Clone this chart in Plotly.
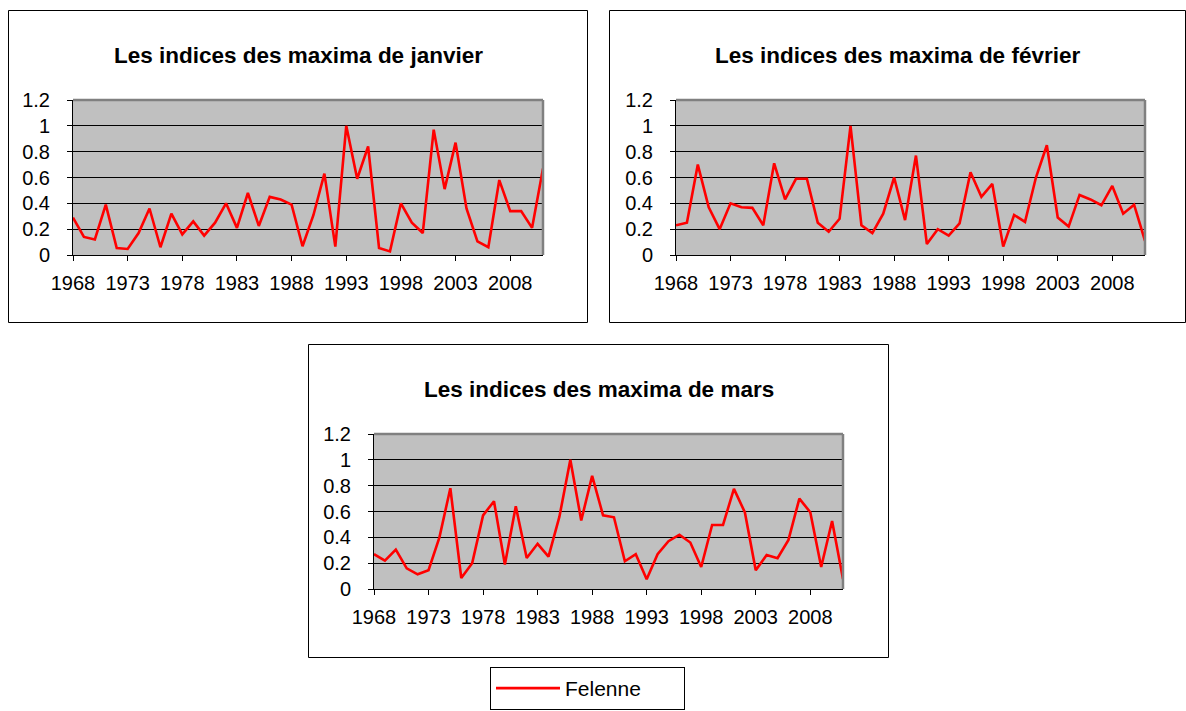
import plotly.graph_objects as go

years = list(range(1968, 2012))

janvier = [0.29, 0.14, 0.12, 0.39, 0.054, 0.047, 0.17, 0.36, 0.06, 0.32,
           0.16, 0.26, 0.15, 0.25, 0.40, 0.21, 0.48, 0.225, 0.45, 0.43,
           0.39, 0.068, 0.31, 0.63, 0.065, 1.0, 0.59, 0.84, 0.055, 0.028,
           0.40, 0.25, 0.17, 0.97, 0.51, 0.87, 0.36, 0.106, 0.06, 0.58,
           0.34, 0.34, 0.21, 0.67]

fevrier = [0.23, 0.25, 0.70, 0.37, 0.20, 0.40, 0.37, 0.365, 0.23, 0.71,
           0.43, 0.59, 0.59, 0.25, 0.18, 0.28, 1.0, 0.23, 0.17, 0.32,
           0.60, 0.27, 0.77, 0.085, 0.20, 0.15, 0.245, 0.64, 0.45, 0.55,
           0.065, 0.31, 0.256, 0.60, 0.85, 0.29, 0.22, 0.465, 0.43, 0.385,
           0.535, 0.32, 0.39, 0.11]

mars = [0.27, 0.22, 0.305, 0.16, 0.114, 0.145, 0.40, 0.78, 0.085, 0.20,
        0.57, 0.68, 0.19, 0.64, 0.24, 0.35, 0.25, 0.56, 1.0, 0.53,
        0.876, 0.57, 0.555, 0.215, 0.27, 0.075, 0.27, 0.37, 0.42, 0.36,
        0.17, 0.496, 0.496, 0.775, 0.594, 0.145, 0.264, 0.238, 0.38, 0.70,
        0.594, 0.17, 0.527, 0.078]

titles = ["Les indices des maxima de janvier",
          "Les indices des maxima de février",
          "Les indices des maxima de mars"]
series_name = "Felenne"
x_ticks = list(range(1968, 2009, 5))
y_ticks = [0, 0.2, 0.4, 0.6, 0.8, 1.0, 1.2]
y_ticktext = ["0", "0.2", "0.4", "0.6", "0.8", "1", "1.2"]

W, H = 1186, 711
FONT = "Liberation Sans, Arial, sans-serif"

def px_x(p):
    return p / W

def px_y(p):
    return 1 - p / H

# plot areas (pixel boxes): left, right, top, bottom
plot_boxes = [(73, 543, 100, 255), (676, 1145, 100, 255), (374, 843, 434, 589)]
chart_boxes = [(8.5, 587.5, 10.5, 322.5), (609.5, 1185.5, 10.5, 322.5), (308.5, 888.5, 344.5, 657.5)]
title_y = [56, 56, 389]

fig = go.Figure()
data = [janvier, fevrier, mars]
shapes = []
annotations = []
for i, (vals, pb, cb) in enumerate(zip(data, plot_boxes, chart_boxes)):
    sfx = "" if i == 0 else str(i + 1)
    fig.add_trace(go.Scatter(
        x=years, y=vals, mode="lines", name=series_name,
        line=dict(color="#FF0000", width=2.6),
        xaxis="x" + sfx, yaxis="y" + sfx,
        showlegend=(i == 0), hoverinfo="x+y"))
    l, r, t, b = pb
    fig.layout["xaxis" + sfx] = dict(
        domain=[px_x(l), px_x(r)], anchor="y" + sfx,
        range=[1968, 2011], tickvals=x_ticks,
        ticks="outside", ticklen=5, tickcolor="black", tickwidth=1,
        showgrid=False, zeroline=False, showline=True,
        linecolor="black", linewidth=1, automargin=False,
        tickfont=dict(family=FONT, size=20, color="black"),
        ticklabelstandoff=5, fixedrange=True)
    fig.layout["yaxis" + sfx] = dict(
        domain=[px_y(b), px_y(t)], anchor="x" + sfx,
        range=[0, 1.2], tickvals=y_ticks, ticktext=y_ticktext,
        ticks="outside", ticklen=5, tickcolor="black", tickwidth=1,
        showgrid=True, gridcolor="black", gridwidth=1,
        zeroline=False, showline=True, linecolor="black", linewidth=1,
        automargin=False,
        tickfont=dict(family=FONT, size=20, color="black"),
        ticklabelstandoff=13, fixedrange=True)
    # plot area gray border (top and right)
    xd = ("x" + sfx) + " domain"
    yd = ("y" + sfx) + " domain"
    shapes.append(dict(type="line", xref=xd, yref=yd, x0=0, x1=1, y0=1, y1=1,
                       line=dict(color="#808080", width=2.5), layer="above"))
    shapes.append(dict(type="line", xref=xd, yref=yd, x0=1, x1=1, y0=0, y1=1,
                       line=dict(color="#808080", width=2.5), layer="above"))
    # chart border
    cl, cr, ct, cbm = cb
    shapes.append(dict(type="rect", xref="paper", yref="paper",
                       x0=px_x(cl), x1=px_x(cr), y0=px_y(cbm), y1=px_y(ct),
                       line=dict(color="black", width=1), layer="below"))
    annotations.append(dict(
        text="<b>" + titles[i] + "</b>", xref="paper", yref="paper",
        x=px_x((cl + cr) / 2), y=px_y(title_y[i]),
        xanchor="center", yanchor="middle", showarrow=False,
        font=dict(family=FONT, size=22.5, color="black")))

fig.update_layout(
    width=W, height=H,
    margin=dict(l=0, r=0, t=0, b=0, pad=0, autoexpand=False),
    paper_bgcolor="white", plot_bgcolor="#C0C0C0",
    shapes=shapes, annotations=annotations,
    showlegend=True,
    legend=dict(x=px_x(490), y=px_y(667), xanchor="left", yanchor="top",
                orientation="h",
                bordercolor="black", borderwidth=1, bgcolor="white",
                font=dict(family=FONT, size=21, color="black"),
                itemwidth=64, entrywidth=114),
)

fig.write_html("out.html",
               config={"displayModeBar": False},
               post_script="document.body.style.margin='0px';document.body.style.padding='0px';")
